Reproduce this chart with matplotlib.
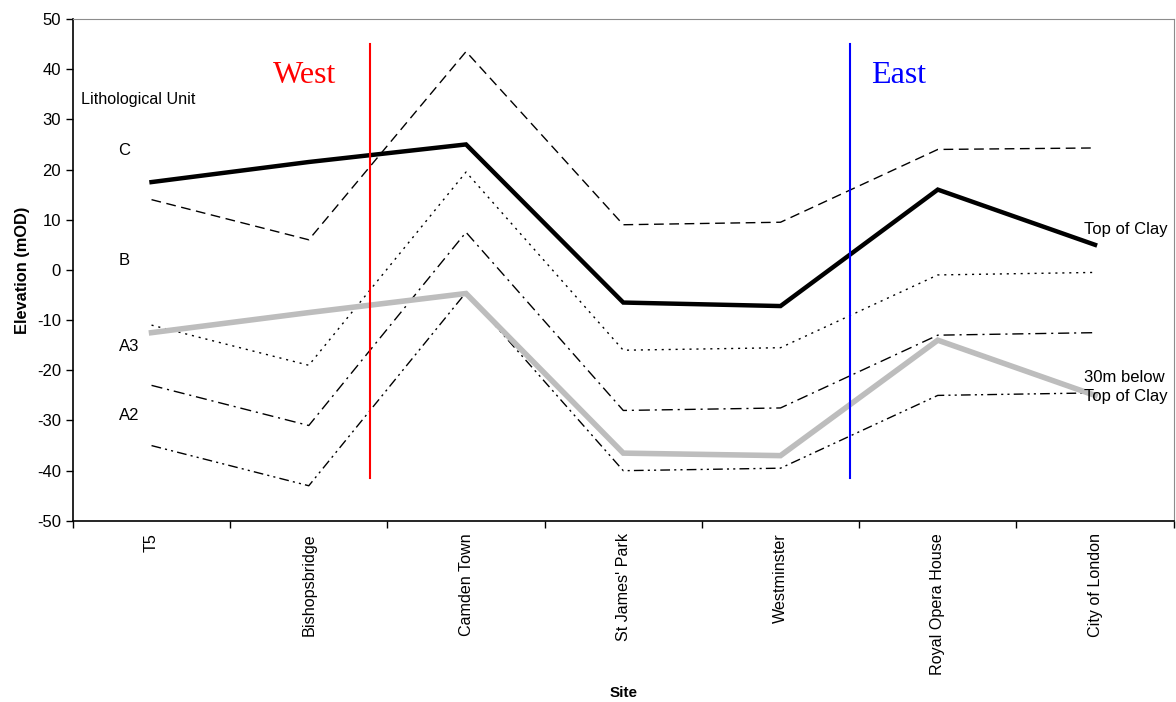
import matplotlib.pyplot as plt

# Sites along the section, west to east
SITES = ["T5", "Bishopsbridge", "Camden Town", "St James' Park",
         "Westminster", "Royal Opera House", "City of London"]

# Elevations (mOD)
TOP_OF_CLAY = [17.5, 21.5, 25.0, -6.5, -7.2, 16.0, 5.0]
BELOW_30M = [-12.5, -8.5, -4.7, -36.5, -37.0, -14.0, -25.0]
UNIT_C_BASE = [14.0, 6.0, 43.5, 9.0, 9.5, 24.0, 24.3]
UNIT_B_BASE = [-11.0, -19.0, 19.5, -16.0, -15.5, -1.0, -0.5]
UNIT_A3_BASE = [-23.0, -31.0, 7.5, -28.0, -27.5, -13.0, -12.5]
UNIT_A2_BASE = [-35.0, -43.0, -4.5, -40.0, -39.5, -25.0, -24.5]

UNIT_LABELS = ["C", "B", "A3", "A2"]
UNIT_LABEL_Y = [23.8, 1.8, -15.2, -29]

plt.rcParams["font.family"] = ["Liberation Sans", "DejaVu Sans"]
plt.rcParams["axes.unicode_minus"] = False

fig = plt.figure(figsize=(11.76, 7.02), dpi=100)
ax = fig.add_axes([0.062, 0.258, 0.936, 0.715])

x = list(range(len(SITES)))

ax.plot(x, UNIT_C_BASE, color="black", lw=1.0, dashes=(7, 4))
ax.plot(x, UNIT_B_BASE, color="black", lw=1.0, dashes=(1.5, 3.5))
ax.plot(x, UNIT_A3_BASE, color="black", lw=1.0, dashes=(8, 3.5, 1.5, 3.5))
ax.plot(x, UNIT_A2_BASE, color="black", lw=1.0,
        dashes=(7, 3, 1.5, 3, 1.5, 3))
ax.plot(x, BELOW_30M, color="#bdbdbd", lw=4.0, solid_joinstyle="miter")
ax.plot(x, TOP_OF_CLAY, color="black", lw=3.2, solid_joinstyle="miter")

# West / East boundaries
ax.plot([1.39, 1.39], [45, -41.5], color="red", lw=1.5)
ax.plot([4.44, 4.44], [45, -41.5], color="blue", lw=1.5)
ax.text(0.97, 38.8, "West", color="red", fontsize=23,
        family="Liberation Serif", ha="center", va="center")
ax.text(4.75, 38.8, "East", color="blue", fontsize=23,
        family="Liberation Serif", ha="center", va="center")

ax.text(-0.45, 34, "Lithological Unit", fontsize=11.6, va="center")
for lab, yv in zip(UNIT_LABELS, UNIT_LABEL_Y):
    ax.text(-0.21, yv, lab, fontsize=12, va="center")

ax.text(5.93, 8.1, "Top of Clay", fontsize=12, va="center")
ax.text(5.93, -21.5, "30m below", fontsize=12, va="center")
ax.text(5.93, -25.3, "Top of Clay", fontsize=12, va="center")

ax.set_xlim(-0.5, 6.5)
ax.set_ylim(-50, 50)
ax.set_yticks(range(-50, 51, 10))
ax.set_xticks([i - 0.5 for i in range(len(SITES) + 1)], minor=False)
ax.set_xticklabels([])
ax.set_xticks(x, minor=True)
ax.set_xticklabels(SITES, minor=True, rotation=90, fontsize=11.6)
ax.tick_params(axis="x", which="minor", length=0, pad=9)
ax.tick_params(axis="x", which="major", length=5, width=1, direction="out")
ax.tick_params(axis="y", length=5, width=1, labelsize=12, direction="out")

for side in ("top", "right"):
    ax.spines[side].set_color("#8c8c8c")
for side in ("left", "bottom"):
    ax.spines[side].set_linewidth(1.2)

ax.set_ylabel("Elevation (mOD)", fontsize=11.8, fontweight="bold", labelpad=5)
ax.set_xlabel("Site", fontsize=11, fontweight="bold", labelpad=8)

fig.savefig("out.png", dpi=100)
